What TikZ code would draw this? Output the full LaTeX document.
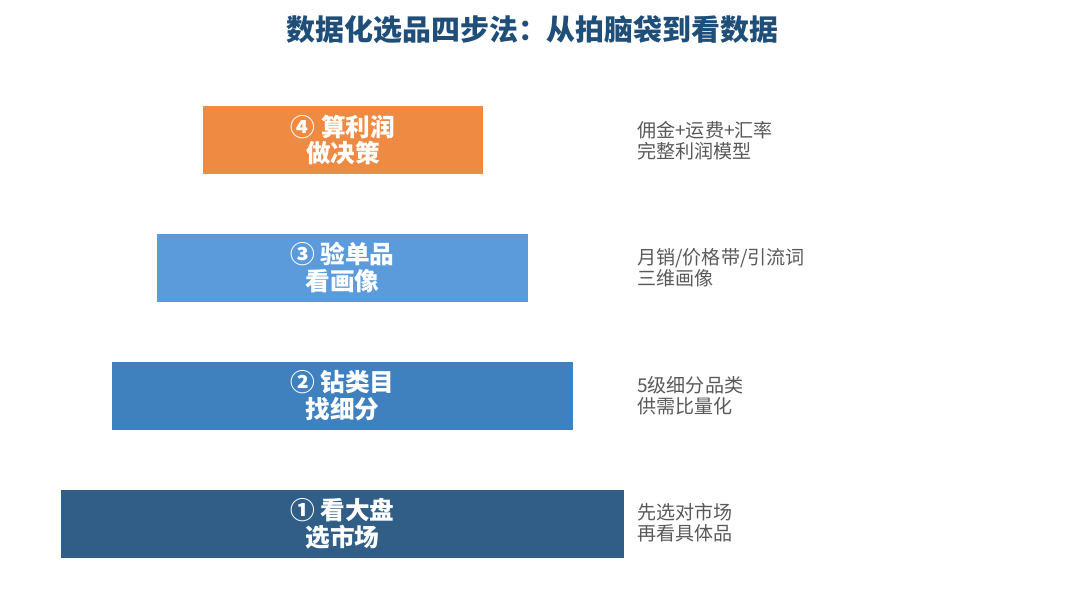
\documentclass[tikz,border=0pt]{standalone}
\usepackage{fontspec}
\setmainfont{Noto Sans CJK SC}
\definecolor{titleblue}{HTML}{1F4E79}
\definecolor{stepone}{HTML}{305E86}
\definecolor{steptwo}{HTML}{3F80BF}
\definecolor{stepthree}{HTML}{5B9BDB}
\definecolor{stepfour}{HTML}{EF8A43}
\definecolor{notegray}{HTML}{595959}
\tikzset{
  stepbox/.style={fill=#1, text=white, minimum height=51pt, inner sep=0pt,
    align=center, font=\fontsize{18.5}{20}\selectfont\bfseries},
  notetext/.style={anchor=west, inner sep=0pt, align=left, text=notegray,
    font=\fontsize{14.3}{15.8}\selectfont},
}
\begin{document}
\begin{tikzpicture}[x=0.75pt,y=-0.75pt]
  \useasboundingbox (0,0) rectangle (1065,615);
  % title
  \node[text=titleblue, font=\fontsize{21.7}{24}\selectfont\bfseries] (title) at (532.5,30)
    {数据化选品四步法：从拍脑袋到看数据};
  % steps, bottom to top
  \node[stepbox=stepone, minimum width=422.25pt] (s1) at (342.5,523.5) {① 看大盘\\选市场};
  \node[stepbox=steptwo, minimum width=345.75pt] (s2) at (342.5,395.5) {② 钻类目\\找细分};
  \node[stepbox=stepthree, minimum width=278.25pt] (s3) at (342.5,267.5) {③ 验单品\\看画像};
  \node[stepbox=stepfour, minimum width=210pt] (s4) at (343,140) {④ 算利润\\做决策};
  % notes
  \node[notetext] (n1) at (637,523) {先选对市场\\再看具体品};
  \node[notetext] (n2) at (637,396) {5级细分品类\\供需比量化};
  \node[notetext] (n3) at (637,267.5) {月销/价格带/引流词\\三维画像};
  \node[notetext] (n4) at (637,140.5) {佣金+运费+汇率\\完整利润模型};
\end{tikzpicture}
\end{document}
